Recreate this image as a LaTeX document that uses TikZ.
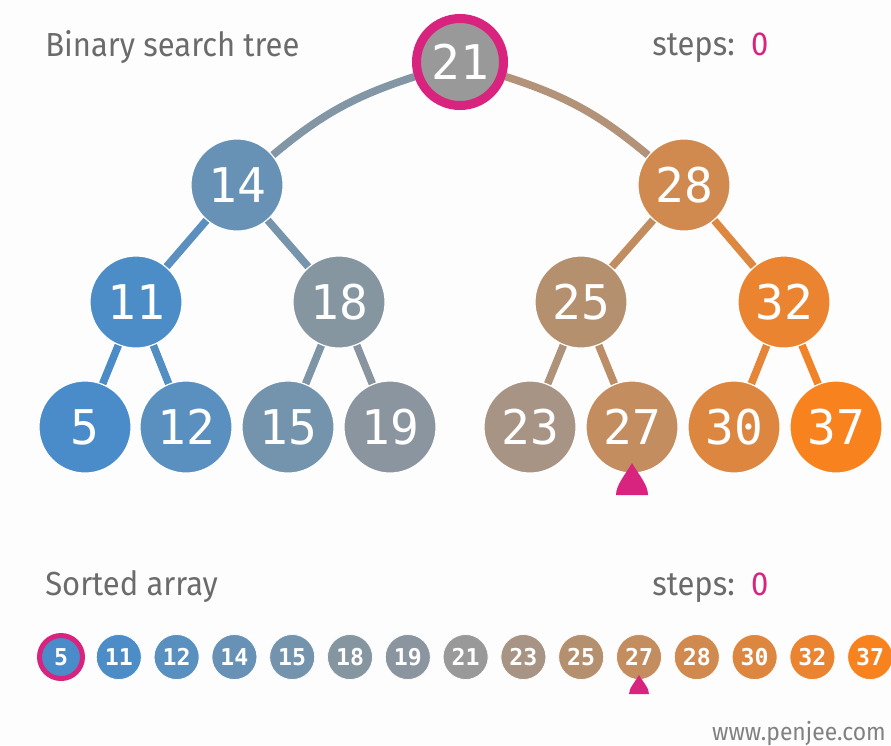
\documentclass[tikz,border=0pt]{standalone}
\usepackage{fontspec}
\setmainfont{Fira Sans}[FakeStretch=0.93]
\newfontfamily\treefont{DejaVu Sans Mono}
\newfontfamily\arrayfont{DejaVu Sans Mono}
\usetikzlibrary{backgrounds}

\definecolor{c5}{HTML}{4A8BC9}
\definecolor{c11}{HTML}{4C8CC7}
\definecolor{c12}{HTML}{5A90BF}
\definecolor{c14}{HTML}{6892B5}
\definecolor{c15}{HTML}{7494AD}
\definecolor{c18}{HTML}{8596A1}
\definecolor{c19}{HTML}{8A959F}
\definecolor{c21}{HTML}{999999}
\definecolor{c23}{HTML}{A89484}
\definecolor{c25}{HTML}{B5906E}
\definecolor{c27}{HTML}{C38D60}
\definecolor{c28}{HTML}{D08A4F}
\definecolor{c30}{HTML}{DD8640}
\definecolor{c32}{HTML}{EA8430}
\definecolor{c37}{HTML}{F7821E}
\definecolor{hot}{HTML}{D8247F}
\definecolor{label}{HTML}{6B6B6B}
\definecolor{paper}{HTML}{FDFDFD}

\tikzset{
  bst/.style={circle, minimum size=2.3cm, inner sep=0pt, draw=white, line width=0.8pt,
    text=white, font=\treefont\fontsize{34}{34}\selectfont},
  cell/.style={circle, minimum size=1.125cm, inner sep=0pt, draw=white, line width=0.5pt,
    text=white, font=\arrayfont\bfseries\fontsize{16.5}{16.5}\selectfont},
  link/.style={line width=0.19cm},
  caption/.style={text=label, inner sep=0pt, font=\fontsize{23.7}{24}\selectfont},
}

\begin{document}
\begin{tikzpicture}[x=0.025cm, y=-0.025cm]
  \useasboundingbox (0,0) rectangle (891,745);

  % Headings
  \node (bstcap) [caption, anchor=base west] at (45,56) {Binary search tree};
  \node (bststeps) [caption, anchor=base west] at (652,55) {steps:~~\textcolor{hot}{0}};
  \node (arrcap) [caption, anchor=base west] at (45,595) {Sorted array};
  \node (arrsteps) [caption, anchor=base west] at (652,595) {steps:~~\textcolor{hot}{0}};

  % Root of the tree
  \node (t21) [bst, fill=c21, draw=hot, line width=0.225cm, minimum size=2.175cm] at (460,62) {21};

  % Nodes for the lower levels
  \foreach \v/\x/\y in {14/237/185, 28/684/185,
                        11/136/302, 18/339/302, 25/581/302, 32/784/302,
                        5/85/427, 12/186/427, 15/288/427, 19/390/427,
                        23/530/427, 27/632/427, 30/734/427, 37/836/427}
    \node (t\v) [bst, fill=c\v] at (\x,\y) {\v};

  % Edges behind the nodes
  \begin{scope}[on background layer]
    \fill[paper] (0,0) rectangle (891,745);
    \draw[link, draw=c21!55!c14] (t14) to[bend left=11] (t21);
    \draw[link, draw=c21!55!c28] (t28) to[bend right=11] (t21);
    \foreach \p/\c in {14/11, 14/18, 11/5, 11/12, 18/15, 18/19,
                       28/25, 28/32, 25/23, 25/27, 32/30, 32/37}
      \draw[link, draw=c\p!50!c\c] (t\p) -- (t\c);
  \end{scope}

  % Pointer under 27
  \fill[hot, shift={(t27.center)}] (0,36) .. controls (7,48) and (16,58) .. (16,68)
    -- (-16,68) .. controls (-16,58) and (-7,48) .. (0,36);

  % Sorted array
  \node (a5) [cell, fill=c5, draw=hot, line width=0.125cm, minimum size=1.075cm] at (61,657) {5};
  \foreach \v [count=\i] in {11,12,14,15,18,19,21,23,25,27,28,30,32,37}
    \node (a\v) [cell, fill=c\v] at (61+57.8*\i,657) {\v};

  % Pointer under array 27
  \fill[hot, shift={(a27.center)}] (0,18) .. controls (4,25) and (10,31) .. (10,37)
    -- (-10,37) .. controls (-10,31) and (-4,25) .. (0,18);

  % Footer
  \node (site) [text=label!85, inner sep=0pt, anchor=base east, font=\fontsize{17.5}{17.5}\selectfont] at (886,740) {www.penjee.com};
\end{tikzpicture}
\end{document}
